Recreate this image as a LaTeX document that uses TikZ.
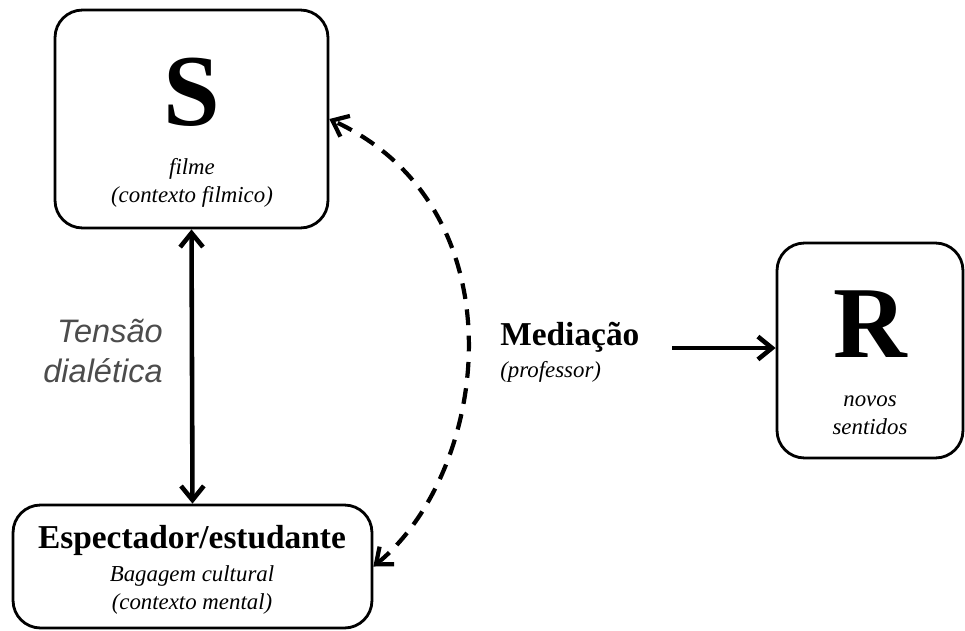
\documentclass[tikz,border=0pt]{standalone}
\usepackage{fontspec}
\setmainfont{Liberation Serif}
\newfontfamily\tensaofont{Liberation Sans}
\usetikzlibrary{arrows.meta}

\begin{document}
\begin{tikzpicture}[x=0.02cm,y=-0.02cm,
  caixa/.style={draw,line width=1.6pt,rounded corners=0.55cm,inner sep=0pt},
  letra/.style={font=\fontsize{58}{58}\selectfont\bfseries,inner sep=0pt},
  nota/.style={font=\fontsize{13}{16}\selectfont\itshape,align=center,inner sep=0pt},
  titulo/.style={font=\fontsize{19}{22}\selectfont\bfseries,inner sep=0pt},
  seta/.style={line width=2.6pt,-{Straight Barb[length=8pt,width=13pt]}},
  setadupla/.style={line width=2.6pt,{Straight Barb[length=8pt,width=13pt]}-{Straight Barb[length=8pt,width=13pt]}},
  tracejada/.style={line width=2.4pt,dash pattern=on 9pt off 6pt,{Straight Barb[length=8pt,width=13pt]}-{Straight Barb[length=8pt,width=13pt]}}]
\useasboundingbox (0,0) rectangle (965,630);

\node[caixa,minimum width=5.46cm,minimum height=4.36cm] (sbox) at (191.5,119) {};
\node[caixa,minimum width=7.18cm,minimum height=2.46cm] (ebox) at (192.5,566.5) {};
\node[caixa,minimum width=3.72cm,minimum height=4.3cm] (rbox) at (870,350.5) {};

\node[letra] (sletra) at (192,92) {S};
\node[nota] (snota) at (192,183) {filme\\(contexto filmico)};
\node[titulo] (etitulo) at (192,540) {Espectador/estudante};
\node[nota] (enota) at (192,590) {Bagagem cultural\\(contexto mental)};
\node[letra] (rletra) at (870,324) {R};
\node[nota] (rnota) at (870,415) {novos\\sentidos};
\node[titulo,anchor=west] (mtitulo) at (500,337) {Mediação};
\node[nota,anchor=west] (mnota) at (500,372) {(professor)};
\node[font=\fontsize{18.5}{23}\selectfont\tensaofont\itshape,text=black!70,align=right,anchor=east,inner sep=0pt] (tensao) at (163,351) {Tensão\\dialética};
\coordinate (mseta) at (672,348);

\draw[setadupla] (sbox.south) -- (ebox.north);
\draw[seta] (mseta) -- (mseta -| rbox.west);
\draw[tracejada] (ebox.east) .. controls (491,470) and (522,208) .. (sbox.east);
\end{tikzpicture}
\end{document}
